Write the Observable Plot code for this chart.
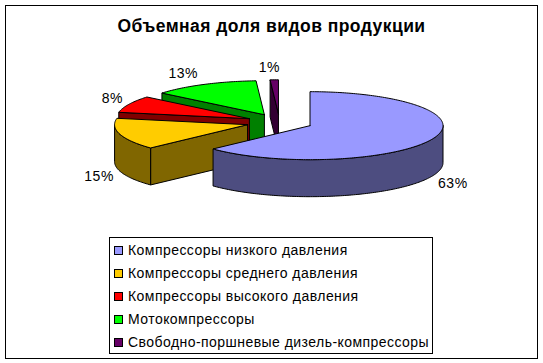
<!DOCTYPE html>
<html>
<head>
<meta charset="utf-8">
<script src="https://cdn.jsdelivr.net/npm/d3@7"></script>
<script src="https://cdn.jsdelivr.net/npm/@observablehq/plot@0.6"></script>
<style>
  html, body { margin: 0; padding: 0; background: #fff; }
  body { width: 543px; height: 363px; position: relative; overflow: hidden;
         font-family: Arial, "Liberation Sans", sans-serif; color: #000; }
  #frame { position: absolute; left: 5px; top: 5px; width: 533px; height: 354px;
           box-sizing: border-box; border: 1px solid #000; }
  #title { position: absolute; left: 5px; width: 533px; top: 16px; text-align: center;
           font-weight: bold; font-size: 17.5px; letter-spacing: 0.45px; line-height: 20px; white-space: nowrap; }
  #chart { position: absolute; left: 0; top: 0; }
  #legend { position: absolute; left: 109px; top: 237px; width: 324px; height: 117px;
            box-sizing: border-box; border: 1px solid #000; background: #fff; }
  .row { position: absolute; left: 0; height: 15px; line-height: 15px; font-size: 14px; letter-spacing: 0.45px; white-space: nowrap; }
  .sw { position: absolute; left: 4px; top: 3px; width: 7px; height: 7px; border: 1px solid #000; }
  .lbl { position: absolute; left: 18px; top: 0; }
</style>
</head>
<body>
<div id="frame"></div>
<div id="title"></div>
<div id="chart"></div>
<div id="legend"></div>
<script>
// ---- data ----
const chartTitle = "Объемная доля видов продукции";
const categories = [
  "Компрессоры низкого давления",
  "Компрессоры среднего давления",
  "Компрессоры высокого давления",
  "Мотокомпрессоры",
  "Свободно-поршневые дизель-компрессоры"
];
const shares = [63, 15, 8, 13, 1];
const shareLabels = ["63%", "15%", "8%", "13%", "1%"];
const topColors = ["#9999FF", "#FFCC00", "#FF0000", "#00FF00", "#660066"];
const sideColors = ["#4D4D80", "#806600", "#800000", "#008000", "#330033"];

// ---- geometry (layout constants) ----
const W = 543, H = 363;
const CX = 279, CY = 121.8, RX = 133, RY = 34, DEPTH = 37, EXPLODE = 0.25;
const dz = DEPTH / RY;

const arcs = d3.pie().sort(null).value(d => d).startAngle(0).endAngle(2 * Math.PI)(shares);
const mid = a => (a.startAngle + a.endAngle) / 2;

const polys = [];
let pid = 0;
function addPoly(pts, fill) {
  const id = pid++;
  pts.push(pts[0]);
  for (const [x, y] of pts) polys.push({id, x, y, fill});
}

const order = d3.range(arcs.length).sort((i, j) => (-Math.cos(mid(arcs[i]))) - (-Math.cos(mid(arcs[j]))));
const labelRows = [];

for (const i of order) {
  const a = arcs[i];
  const m = mid(a);
  const ox = EXPLODE * Math.sin(m), oy = -EXPLODE * Math.cos(m);
  const pt = (t, r, z) => [ox + r * Math.sin(t), oy - r * Math.cos(t) + z];
  const arcPts = (t0, t1, z) => {
    const n = Math.max(2, Math.ceil(Math.abs(t1 - t0) / (Math.PI / 180)));
    return d3.range(n + 1).map(k => pt(t0 + (t1 - t0) * k / n, 1, z));
  };
  // radial cut faces
  for (const [t, sgn] of [[a.startAngle, -1], [a.endAngle, 1]]) {
    const nrm = t + sgn * Math.PI / 2;
    if (-Math.cos(nrm) > 1e-6) addPoly([pt(t, 0, 0), pt(t, 1, 0), pt(t, 1, dz), pt(t, 0, dz)], sideColors[i]);
  }
  // outer rim (front half only)
  const r0 = Math.max(a.startAngle, Math.PI / 2), r1 = Math.min(a.endAngle, 3 * Math.PI / 2);
  if (r1 > r0) addPoly([...arcPts(r0, r1, 0), ...arcPts(r1, r0, dz)], sideColors[i]);
  // top face
  addPoly([pt(0, 0, 0), ...arcPts(a.startAngle, a.endAngle, 0)], topColors[i]);

  // label
  const front = -Math.cos(m) > 0;
  const rim = pt(m, 1, front ? dz : 0);
  const s = Math.sin(m);
  const anchor = Math.abs(s) > 0.3 ? (s > 0 ? "start" : "end") : "middle";
  const gx = anchor === "start" ? 6 : anchor === "end" ? -6 : -5;
  const gy = 12.5 * (-Math.cos(m)) + (front ? 2 : 0);
  labelRows.push({x: rim[0] + gx / RX, y: rim[1] + gy / RY, text: shareLabels[i], anchor});
}

const labelMark = anchor => Plot.text(labelRows, {
  filter: d => d.anchor === anchor,
  x: "x", y: "y", text: "text", textAnchor: anchor,
  fontSize: 14, fontFamily: "Arial, 'Liberation Sans', sans-serif", fill: "black"
});

const plot = Plot.plot({
  width: W, height: H, margin: 0,
  style: {background: "transparent", overflow: "visible", letterSpacing: "0.5px"},
  x: {domain: [-1, 1], range: [CX - RX, CX + RX], axis: null},
  y: {domain: [-1, 1], range: [CY - RY, CY + RY], axis: null},
  color: {type: "identity"},
  marks: [
    Plot.line(polys, {x: "x", y: "y", z: "id", fill: "fill", stroke: "black", strokeWidth: 1, curve: "linear", strokeLinejoin: "miter"}),
    labelMark("start"), labelMark("end"), labelMark("middle")
  ]
});
document.getElementById("chart").appendChild(plot);

document.getElementById("title").textContent = chartTitle;
const legend = document.getElementById("legend");
categories.forEach((c, i) => {
  const row = document.createElement("div");
  row.className = "row";
  row.style.top = (5 + 23 * i) + "px";
  row.style.left = "0px";
  const sw = document.createElement("div");
  sw.className = "sw";
  sw.style.background = topColors[i];
  const t = document.createElement("div");
  t.className = "lbl";
  t.textContent = c;
  row.appendChild(sw); row.appendChild(t);
  legend.appendChild(row);
});
</script>
</body>
</html>
